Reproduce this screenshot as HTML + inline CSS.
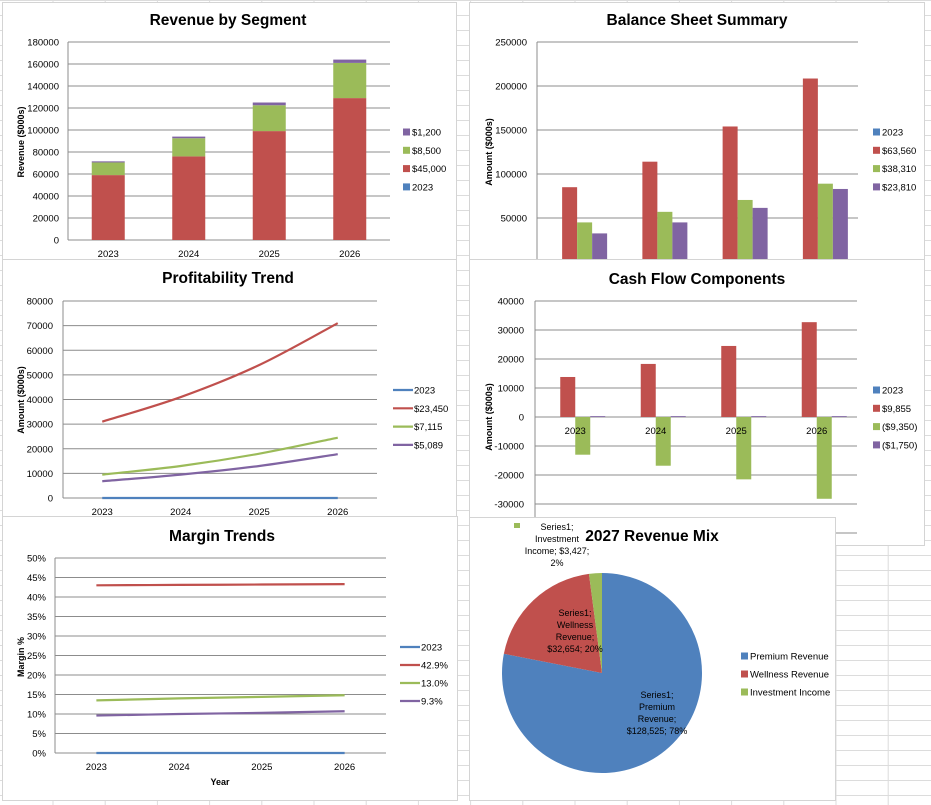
<!DOCTYPE html>
<html><head><meta charset="utf-8"><style>
html,body{margin:0;padding:0;background:#fff;width:931px;height:805px;overflow:hidden}
svg text{font-family:"Liberation Sans",sans-serif}
</style></head><body>
<svg id="dash" width="931" height="805" viewBox="0 0 931 805" xmlns="http://www.w3.org/2000/svg"></svg>
<script>
const years=['2023','2024','2025','2026'];
// Revenue by Segment (stacked)
const revBlue=[0,0,0,0];
const revRed=[59000,76000,99000,129000];
const revGreen=[11500,16500,23500,32000];
const revPurple=[1000,1500,2500,3000];
const revTicks=[0,20000,40000,60000,80000,100000,120000,140000,160000,180000];
const revLegend=['$1,200','$8,500','$45,000','2023'];
// Balance Sheet
const bsBlue=[0,0,0,0];
const bsRed=[85000,114000,154000,208500];
const bsGreen=[45000,57000,70500,89000];
const bsPurple=[32500,45000,61500,83000];
const bsTicks=[50000,100000,150000,200000,250000];
const bsLegend=['2023','$63,560','$38,310','$23,810'];
// Profitability
const pfBlue=[0,0,0,0];
const pfRed=[31000,41000,54000,71000];
const pfGreen=[9500,13000,18000,24500];
const pfPurple=[6800,9500,13000,17800];
const pfTicks=[0,10000,20000,30000,40000,50000,60000,70000,80000];
const pfLegend=['2023','$23,450','$7,115','$5,089'];
// Cash Flow
const cfBlue=[0,0,0,0];
const cfRed=[13800,18300,24500,32700];
const cfGreen=[-13000,-16800,-21500,-28200];
const cfPurple=[300,300,300,300];
const cfTicks=[-30000,-20000,-10000,0,10000,20000,30000,40000];
const cfLegend=['2023','$9,855','($9,350)','($1,750)'];
// Margin
const mgBlue=[0,0,0,0];
const mgRed=[43.0,43.1,43.2,43.3];
const mgGreen=[13.5,14.0,14.4,14.8];
const mgPurple=[9.6,10.0,10.3,10.7];
const mgTicks=[0,5,10,15,20,25,30,35,40,45,50];
const mgLegend=['2023','42.9%','13.0%','9.3%'];
// Pie
const pieLabels=['Premium Revenue','Wellness Revenue','Investment Income'];
const pieValues=[128525,32654,3427];
const pieText=['$128,525','$32,654','$3,427'];

const C={blue:'#4F81BD',red:'#C0504D',green:'#9BBB59',purple:'#8064A2',grid:'#8c8c8c'};
const TS=15.5;
const NS='http://www.w3.org/2000/svg';
const svg=document.getElementById('dash');
function mk(tag,a,p){const e=document.createElementNS(NS,tag);for(const k in a)e.setAttribute(k,a[k]);(p||svg).appendChild(e);return e;}
function txt(s,x,y,size,anchor,weight,p){const t=mk('text',{x:x,y:y,'font-size':size,'text-anchor':anchor||'start','font-weight':weight||'normal',fill:'#000'},p);t.textContent=s;return t;}
function lin(min,max,p0,p1){return v=>p0+(v-min)/(max-min)*(p1-p0);}
function fmtPct(v){return v+'%';}

const bg=mk('g',{});


for(let x=53;x<931;x+=52.2){mk('line',{x1:x,y1:0,x2:x,y2:805,stroke:'#dcdcdc','stroke-width':1},bg);}
for(let y=0;y<805;y+=15){mk('line',{x1:0,y1:y+0.5,x2:931,y2:y+0.5,stroke:'#dcdcdc','stroke-width':1},bg);}

function panel(x,y,w,h,name){
  const g=mk('g',{});
  
  
  mk('rect',{x:x+0.5,y:y+0.5,width:w,height:h,fill:'#fff',stroke:'#d4d4d4'},g);
  return g;
}
function yAxis(g,ticks,ys,left,right,labelRight,fmt){
  ticks.forEach(v=>{
    const y=ys(v);
    const l=mk('line',{x1:left,y1:y,x2:right,y2:y,stroke:C.grid,'stroke-width':1},g);
    
    const t=txt(fmt?fmt(v):String(v),labelRight,y+3.5,9.5,'end','normal',g);
    
  });
}
function legendBox(g,labels,colors,x,y0,step,isLine){
  labels.forEach((s,i)=>{
    const y=y0+i*step;
    let m;
    if(isLine){m=mk('line',{x1:x,y1:y,x2:x+20,y2:y,stroke:colors[i],'stroke-width':2.2},g);}
    else{m=mk('rect',{x:x,y:y-3.5,width:7,height:7,fill:colors[i]},g);}
    
    const t=txt(s,x+(isLine?21:9),y+3.5,9.5,'start','normal',g);
    
  });
}
function yTitle(g,s,x,y){
  const t=txt(s,0,0,9,'middle','bold',g);
  t.setAttribute('transform','translate('+x+','+y+') rotate(-90)');
  
}
function smooth(pts){
  let d='M'+pts[0][0]+','+pts[0][1];
  for(let i=0;i<pts.length-1;i++){
    const p0=pts[i-1]||pts[i],p1=pts[i],p2=pts[i+1],p3=pts[i+2]||p2;
    const c1=[p1[0]+(p2[0]-p0[0])/6,p1[1]+(p2[1]-p0[1])/6];
    const c2=[p2[0]-(p3[0]-p1[0])/6,p2[1]-(p3[1]-p1[1])/6];
    d+=' C'+c1+' '+c2+' '+p2;
  }
  return d;
}

(function(){
  const g=panel(2,2,454,257,'revenue-by-segment-chart');
  const L=68,R=390,T=42,B=240;
  const ys=lin(0,180000,B,T);
  const t=txt('Revenue by Segment',228,25,TS,'middle','bold',g);
  
  yAxis(g,revTicks,ys,L,R,59);
  const ax=mk('line',{x1:L,y1:T,x2:L,y2:B,stroke:C.grid},g);
  
  const cw=(R-L)/years.length;
  const series=[revBlue,revRed,revGreen,revPurple],cols=[C.blue,C.red,C.green,C.purple];
  years.forEach((yr,i)=>{
    const cx=L+cw*(i+0.5);
    let acc=0;
    series.forEach((s,k)=>{
      const y0=ys(acc),y1=ys(acc+s[i]);acc+=s[i];
      if(s[i]<=0)return;
      const r=mk('rect',{x:cx-16.5,y:y1,width:33,height:y0-y1,fill:cols[k]},g);
      
    });
    const xl=txt(yr,cx,257,9.5,'middle','normal',g);
    
  });
  yTitle(g,'Revenue ($000s)',24,142);
  legendBox(g,revLegend,[C.purple,C.green,C.red,C.blue],403,132,18.3,false);
})();

(function(){
  const g=panel(469,2,455,257,'balance-sheet-chart');
  const L=537,R=858,T=42,B=262;
  const ys=lin(0,250000,B,T);
  const t=txt('Balance Sheet Summary',697,25,TS,'middle','bold',g);
  
  yAxis(g,bsTicks,ys,L,R,527);
  const ax=mk('line',{x1:L,y1:T,x2:L,y2:B,stroke:C.grid},g);
  
  const cw=(R-L)/years.length;
  const series=[bsBlue,bsRed,bsGreen,bsPurple],cols=[C.blue,C.red,C.green,C.purple];
  years.forEach((yr,i)=>{
    const cx=L+cw*(i+0.5);
    series.forEach((s,k)=>{
      const y0=ys(0),y1=ys(s[i]);
      const r=mk('rect',{x:cx-30+k*15,y:Math.min(y0,y1),width:15,height:Math.abs(y0-y1),fill:cols[k]},g);
      
    });
  });
  yTitle(g,'Amount ($000s)',492,152);
  legendBox(g,bsLegend,[C.blue,C.red,C.green,C.purple],873,132,18.3,false);
})();

(function(){
  const g=panel(2,259,454,258,'profitability-trend-chart');
  const L=63,R=377,T=301,B=498;
  const ys=lin(0,80000,B,T);
  const t=txt('Profitability Trend',228,283,TS,'middle','bold',g);
  
  yAxis(g,pfTicks,ys,L,R,53);
  const ax=mk('line',{x1:L,y1:T,x2:L,y2:B,stroke:C.grid},g);
  
  const cw=(R-L)/years.length;
  const xs=i=>L+cw*(i+0.5);
  const series=[pfBlue,pfRed,pfGreen,pfPurple],cols=[C.blue,C.red,C.green,C.purple];
  series.forEach((s,k)=>{
    const p=mk('path',{d:smooth(s.map((v,i)=>[xs(i),ys(v)])),fill:'none',stroke:cols[k],'stroke-width':2.2},g);
    
  });
  years.forEach((yr,i)=>{const xl=txt(yr,xs(i),515,9.5,'middle','normal',g);});
  yTitle(g,'Amount ($000s)',24,400);
  legendBox(g,pfLegend,[C.blue,C.red,C.green,C.purple],393,390,18.3,true);
})();

(function(){
  const g=panel(469,259,455,286,'cash-flow-chart');
  const L=535,R=857,T=301,B=533;
  const ys=lin(-40000,40000,B,T);
  const t=txt('Cash Flow Components',697,284,TS,'middle','bold',g);
  
  yAxis(g,cfTicks,ys,L,R,524);
  const gl=mk('line',{x1:L,y1:B,x2:R,y2:B,stroke:C.grid},g);
  
  const ax=mk('line',{x1:L,y1:T,x2:L,y2:B,stroke:C.grid},g);
  
  const cw=(R-L)/years.length;
  const series=[cfBlue,cfRed,cfGreen,cfPurple],cols=[C.blue,C.red,C.green,C.purple];
  years.forEach((yr,i)=>{
    const cx=L+cw*(i+0.5);
    series.forEach((s,k)=>{
      const y0=ys(0),y1=ys(s[i]);
      const r=mk('rect',{x:cx-30+k*15,y:Math.min(y0,y1),width:15,height:Math.abs(y0-y1),fill:cols[k]},g);
      
    });
    const xl=txt(yr,cx,434,9.5,'middle','normal',g);
    
  });
  yTitle(g,'Amount ($000s)',492,417);
  legendBox(g,cfLegend,[C.blue,C.red,C.green,C.purple],873,390,18.3,false);
})();

(function(){
  const g=panel(2,516,455,284,'margin-trends-chart');
  const L=55,R=386,T=558,B=753;
  const ys=lin(0,50,B,T);
  const t=txt('Margin Trends',222,541,TS,'middle','bold',g);
  
  yAxis(g,mgTicks,ys,L,R,46,fmtPct);
  const ax=mk('line',{x1:L,y1:T,x2:L,y2:B,stroke:C.grid},g);
  
  const cw=(R-L)/years.length;
  const xs=i=>L+cw*(i+0.5);
  const series=[mgBlue,mgRed,mgGreen,mgPurple],cols=[C.blue,C.red,C.green,C.purple];
  series.forEach((s,k)=>{
    const p=mk('path',{d:smooth(s.map((v,i)=>[xs(i),ys(v)])),fill:'none',stroke:cols[k],'stroke-width':2.2},g);
    
  });
  years.forEach((yr,i)=>{const xl=txt(yr,xs(i),770,9.5,'middle','normal',g);});
  const xt=txt('Year',220,785,9,'middle','bold',g);
  
  yTitle(g,'Margin %',24,657);
  legendBox(g,mgLegend,[C.blue,C.red,C.green,C.purple],400,647,18,true);
})();

(function(){
  const g=panel(469,517,366,283,'revenue-mix-pie-chart');
  const cx=602,cy=673,r=100;
  const total=pieValues.reduce((a,b)=>a+b,0);
  const cols=[C.blue,C.red,C.green];
  let a=-Math.PI/2;
  pieValues.forEach((v,i)=>{
    const a2=a+v/total*2*Math.PI;
    const large=(a2-a)>Math.PI?1:0;
    const d='M'+cx+','+cy+' L'+(cx+r*Math.cos(a))+','+(cy+r*Math.sin(a))+' A'+r+','+r+' 0 '+large+' 1 '+(cx+r*Math.cos(a2))+','+(cy+r*Math.sin(a2))+' Z';
    const p=mk('path',{d:d,fill:cols[i]},g);
    
    a=a2;
  });
  const t=txt('2027 Revenue Mix',652,541,TS,'middle','bold',g);
  
  const pct=pieValues.map(v=>Math.round(v/total*100)+'%');
  function lbl(lines,x,y){
    const tt=mk('text',{x:x,y:y,'font-size':9,'text-anchor':'middle',fill:'#000'},g);
    
    lines.forEach((s,j)=>{const ts=mk('tspan',{x:x,dy:j?12:0},tt);ts.textContent=s;});
  }
  lbl(['Series1;','Premium','Revenue;',pieText[0]+'; '+pct[0]],657,698);
  lbl(['Series1;','Wellness','Revenue;',pieText[1]+'; '+pct[1]],575,616);
  lbl(['Series1;','Investment','Income; '+pieText[2]+';',pct[2]],557,530);
  const sq=mk('rect',{x:514,y:523,width:6,height:5,fill:C.green},g);
  
  legendBox(g,pieLabels,cols,741,656,18,false);
})();
</script>
</body></html>
